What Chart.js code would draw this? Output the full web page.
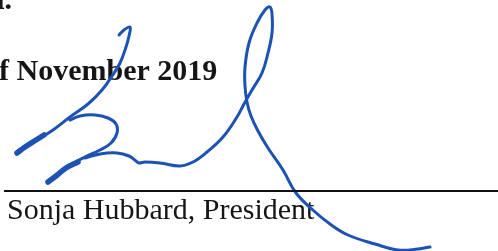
<!DOCTYPE html>
<html>
<head>
<meta charset="utf-8">
<script src="https://cdn.jsdelivr.net/npm/chart.js@4/dist/chart.umd.min.js"></script>
<style>
  html, body { margin: 0; padding: 0; background: #fff; }
  #sig { display: block; }
</style>
</head>
<body>
<canvas id="sig" width="498" height="251"></canvas>
<script>
// text pieces
const topLine = "d.";
const dateLine = "f November 2019";
const nameLine = "Sonja Hubbard, President";

// signature line (x, y in image units)
const ruleX = [4, 498];
const ruleY = [191, 191];

// signature strokes, points
const hookX = [119, 124, 130, 129, 126, 120, 112, 102, 88, 70, 53, 37, 25, 17];
const hookY = [35, 30, 27, 36, 47, 63, 76, 90, 104, 117, 130, 140, 147, 153];

const humpX = [48, 58, 67, 83, 100, 111, 117, 116, 108, 95, 80, 70];
const humpY = [182, 174, 167, 158, 150, 143, 133, 124, 118, 115, 116, 120];

const loopX = [85, 100, 117, 129, 136, 139, 145, 160, 180, 193, 207, 223, 237, 244, 252, 262, 268, 272, 272, 270, 265, 257, 249, 245, 245, 247, 251, 258, 268, 283, 296, 314, 330, 348, 375, 398, 418, 430];
const loopY = [158, 154, 153, 156, 161, 163, 162, 163, 166, 162, 152, 137, 117, 104, 90, 73, 53, 33, 14, 7, 10, 23, 43, 67, 86, 102, 116, 131, 148, 170, 193, 211, 224, 235, 244, 250, 249, 247];

// thick pen ends
const tailAX = [17, 25, 36, 44];
const tailAY = [153, 147, 140, 135];
const tailBX = [48, 56, 66, 78];
const tailBY = [182, 176, 168, 162];

const pts = (xs, ys) => xs.map((x, i) => ({ x: x, y: ys[i] }));

const ink = "#1c52b3";

const textPlugin = {
    id: "pageText",
    beforeDatasetsDraw(chart) {
        const ctx = chart.ctx;
        const sx = chart.scales.x, sy = chart.scales.y;
        ctx.save();
        ctx.fillStyle = "#151515";
        ctx.textBaseline = "alphabetic";
        ctx.font = "bold 30px 'Liberation Serif', 'Times New Roman', serif";
        ctx.textAlign = "right";
        ctx.fillText(topLine, sx.getPixelForValue(12), sy.getPixelForValue(9));
        ctx.textAlign = "left";
        ctx.fillText(dateLine, sx.getPixelForValue(-1), sy.getPixelForValue(80));
        ctx.font = "30px 'Liberation Serif', 'Times New Roman', serif";
        ctx.fillText(nameLine, sx.getPixelForValue(7), sy.getPixelForValue(219));
        ctx.restore();
    }
};

const stroke = (xs, ys, width) => ({
    data: pts(xs, ys),
    showLine: true,
    borderColor: ink,
    borderWidth: width,
    pointRadius: 0,
    tension: 0.4,
    borderCapStyle: "round",
    borderJoinStyle: "round",
    fill: false
});

new Chart(document.getElementById("sig").getContext("2d"), {
    type: "scatter",
    data: {
        datasets: [
            {
                data: pts(ruleX, ruleY),
                showLine: true,
                borderColor: "#111",
                borderWidth: 2,
                pointRadius: 0,
                tension: 0
            },
            stroke(hookX, hookY, 3),
            stroke(humpX, humpY, 3),
            stroke(loopX, loopY, 3),
            stroke(tailAX, tailAY, 5.5),
            stroke(tailBX, tailBY, 5.5)
        ]
    },
    options: {
        responsive: false,
        animation: false,
        layout: { padding: 0 },
        plugins: {
            legend: { display: false },
            tooltip: { enabled: false }
        },
        scales: {
            x: { type: "linear", min: 0, max: 498, display: false },
            y: { type: "linear", min: 0, max: 251, reverse: true, display: false }
        }
    },
    plugins: [textPlugin]
});
</script>
</body>
</html>
